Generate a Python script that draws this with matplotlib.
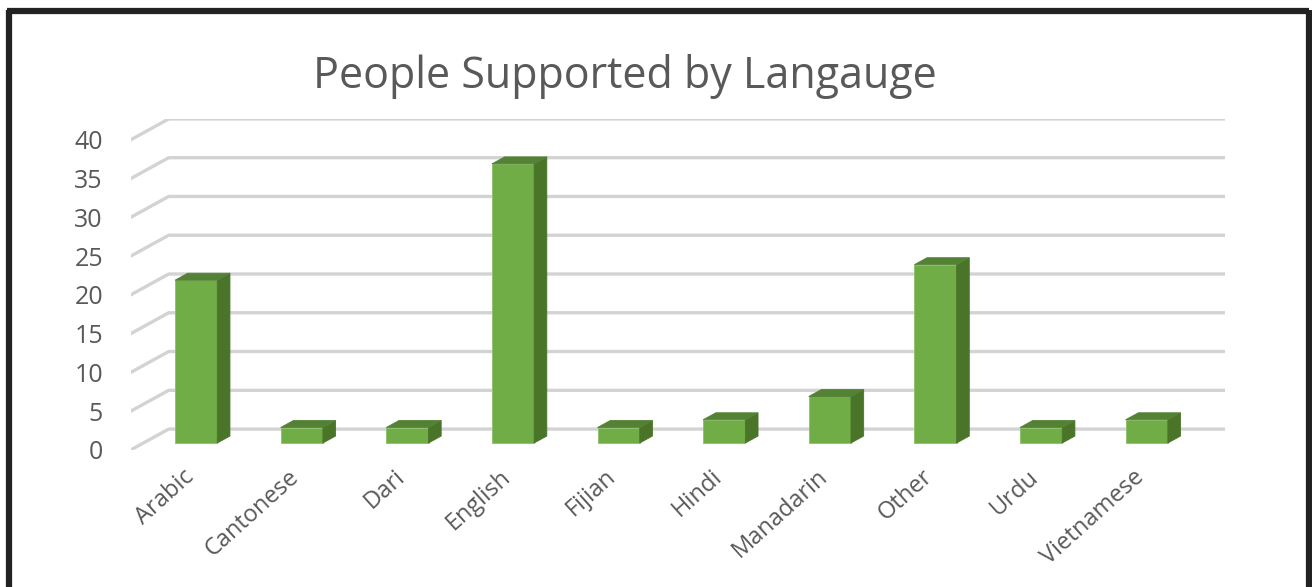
import numpy as np
import matplotlib
matplotlib.use("Agg")
import matplotlib.pyplot as plt
from matplotlib.patches import Polygon
from matplotlib.lines import Line2D

languages = ["Arabic", "Cantonese", "Dari", "English", "Fijian",
             "Hindi", "Manadarin", "Other", "Urdu", "Vietnamese"]
people = [21, 2, 2, 36, 2, 3, 6, 23, 2, 3]
yticks = [0, 5, 10, 15, 20, 25, 30, 35, 40]

plt.rcParams["font.family"] = ["Open Sans", "DejaVu Sans"]

FRONT = "#70ad47"
SIDE = "#4a7529"
TOP = "#548235"
GRID = "#d3d3d3"
TEXT = "#595959"

# oblique depth of the floor, in data units (x: categories, y: values)
DX, DY = 0.36, 2.7
W = 0.4

fig = plt.figure(figsize=(13.12, 5.87), dpi=100)
ax = fig.add_axes([0.0996, 0.2334, 0.834, 0.564])
n = len(languages)
ax.set_xlim(-0.5, n - 0.5 + DX)
ax.set_ylim(0, yticks[-1] + DY)
for s in ax.spines.values():
    s.set_visible(False)
ax.patch.set_alpha(0)

# gridlines: diagonal on the side wall, horizontal on the back wall
for v in yticks:
    ax.plot([-0.5, -0.5 + DX, n - 0.5 + DX], [v, v + DY, v + DY],
            color=GRID, lw=2.4, solid_capstyle="round", zorder=1)

# bars sitting in the middle third of the depth
ox, oy = DX / 3, DY / 3
for i, v in enumerate(people):
    x0, x1 = i - W / 2 + ox, i + W / 2 + ox
    y0, y1 = oy, v + oy
    ax.add_patch(Polygon([(x0, y0), (x1, y0), (x1, y1), (x0, y1)],
                         closed=True, fc=FRONT, ec="#8cbf6a", lw=0.6, zorder=3))
    ax.add_patch(Polygon([(x1, y0), (x1 + ox, y0 + oy), (x1 + ox, y1 + oy), (x1, y1)],
                         closed=True, fc=SIDE, ec=SIDE, lw=0.6, zorder=3))
    ax.add_patch(Polygon([(x0, y1), (x1, y1), (x1 + ox, y1 + oy), (x0 + ox, y1 + oy)],
                         closed=True, fc=TOP, ec=TOP, lw=0.6, zorder=3))

ax.set_yticks(yticks)
ax.set_yticklabels([str(v) for v in yticks], fontsize=18, color=TEXT)
ax.tick_params(axis="y", length=0, pad=20)
ax.set_xticks([])

for i, name in enumerate(languages):
    ax.text(i - 0.01, -0.045, name, transform=ax.get_xaxis_transform(),
            rotation=42, rotation_mode="anchor", ha="right", va="top",
            fontsize=17, color=TEXT)

fig.text(0.476, 0.87, "People Supported by Langauge", ha="center", va="center",
         fontsize=31, color=TEXT)

# dark frame round the chart (bottom edge is cut off)
frame = dict(color="#222222", lw=4.5, solid_capstyle="butt")
fig.add_artist(Line2D([0.0072, 0.0072], [0.0, 0.983], **frame))
fig.add_artist(Line2D([0.0055, 0.9975], [0.981, 0.981], **frame))
fig.add_artist(Line2D([0.9975, 0.9975], [0.0, 0.983], **frame))

fig.savefig("out.png", dpi=100)
